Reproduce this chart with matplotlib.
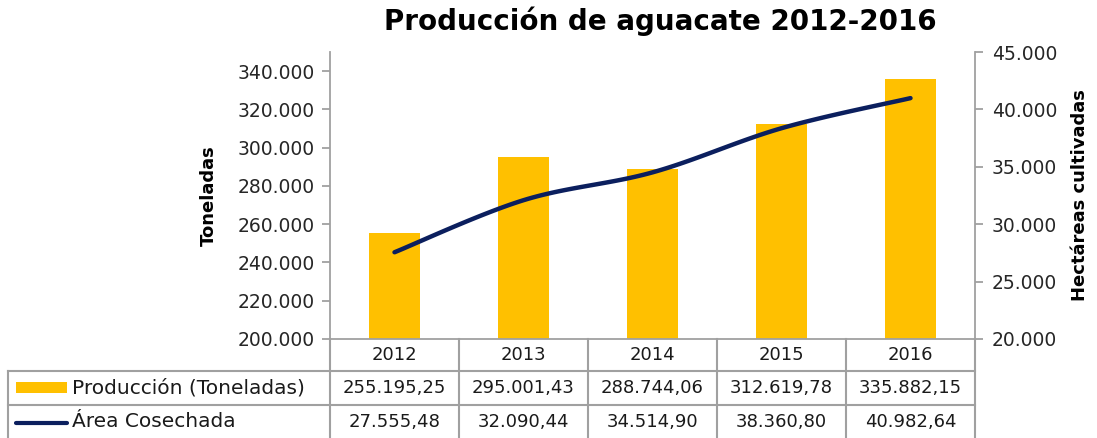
import numpy as np
import matplotlib
matplotlib.use("Agg")
import matplotlib.pyplot as plt

years = ["2012", "2013", "2014", "2015", "2016"]
produccion = [255195.25, 295001.43, 288744.06, 312619.78, 335882.15]
area = [27555.48, 32090.44, 34514.90, 38360.80, 40982.64]
left_ticks = [200000, 220000, 240000, 260000, 280000, 300000, 320000, 340000]
right_ticks = [20000, 25000, 30000, 35000, 40000, 45000]
title = "Producción de aguacate 2012-2016"
serie1 = "Producción (Toneladas)"
serie2 = "Área Cosechada"

YELLOW = "#FFC000"
NAVY = "#0B1F5E"
GRAY = "#A0A0A0"
FONT = "DejaVu Sans"
plt.rcParams['font.family'] = [FONT]
FS = 13.5

W, H = 1097, 438
fig = plt.figure(figsize=(W / 100, H / 100), dpi=100)

def fmt(v, dec=0):
    s = f"{v:,.{dec}f}"
    return s.replace(",", "X").replace(".", ",").replace("X", ".")

L, R, T, B = 330, 975, 52, 339
ax = fig.add_axes([L / W, (H - B) / H, (R - L) / W, (B - T) / H])
x = np.arange(len(years))
ax.bar(x, produccion, width=0.4, color=YELLOW, zorder=2)
ax.set_xlim(-0.5, len(years) - 0.5)
ax.set_ylim(200000, 350000)
ax.set_yticks(left_ticks)
ax.set_yticklabels([fmt(v) for v in left_ticks], fontsize=FS, color="#262626")
ax.set_xticks([])
for s in ["top", "right"]:
    ax.spines[s].set_visible(False)
for s in ["left", "bottom"]:
    ax.spines[s].set_color(GRAY)
    ax.spines[s].set_linewidth(1.3)
ax.tick_params(axis="y", length=6, width=1.3, color=GRAY, pad=5)
ax.set_ylabel("Toneladas", fontsize=13, fontweight="bold", labelpad=14)

ax2 = ax.twinx()
ax2.set_ylim(20000, 45000)
ax2.set_yticks(right_ticks)
ax2.set_yticklabels([fmt(v) for v in right_ticks], fontsize=FS, color="#262626")
for s in ["top", "left", "bottom"]:
    ax2.spines[s].set_visible(False)
ax2.spines["right"].set_color(GRAY)
ax2.spines["right"].set_linewidth(1.3)
ax2.tick_params(axis="y", length=6, width=1.3, color=GRAY, pad=6)
ax2.set_ylabel("Hectáreas cultivadas", fontsize=13, fontweight="bold", labelpad=10)

# smoothed line (Bezier smoothing similar to spreadsheet smoothing)
px = np.array(x, dtype=float)
py = np.array(area, dtype=float)
xs, ys = [], []
n = len(px)
for i in range(n - 1):
    p0 = (px[max(i - 1, 0)], py[max(i - 1, 0)])
    p1 = (px[i], py[i])
    p2 = (px[i + 1], py[i + 1])
    p3 = (px[min(i + 2, n - 1)], py[min(i + 2, n - 1)])
    c1 = (p1[0] + (p2[0] - p0[0]) / 6, p1[1] + (p2[1] - p0[1]) / 6)
    c2 = (p2[0] - (p3[0] - p1[0]) / 6, p2[1] - (p3[1] - p1[1]) / 6)
    t = np.linspace(0, 1, 30)
    bx = (1 - t) ** 3 * p1[0] + 3 * (1 - t) ** 2 * t * c1[0] + 3 * (1 - t) * t ** 2 * c2[0] + t ** 3 * p2[0]
    by = (1 - t) ** 3 * p1[1] + 3 * (1 - t) ** 2 * t * c1[1] + 3 * (1 - t) * t ** 2 * c2[1] + t ** 3 * p2[1]
    xs.extend(bx)
    ys.extend(by)
ax2.plot(xs, ys, color=NAVY, linewidth=3.2, solid_capstyle="round", zorder=3)

fig.suptitle(title, x=660 / W, y=1 - 7 / H, va="top", fontsize=20, fontweight="bold")

# data table
TL = 8
unit = (R - L) / len(years)
x0 = -0.5 - (L - TL) / unit
tab = fig.add_axes([TL / W, 0, (R - TL) / W, (H - B) / H])
tab.set_xlim(x0, len(years) - 0.5)
tab.set_ylim(H, B)
tab.axis("off")
lkw = dict(color=GRAY, linewidth=1.5, clip_on=False)
tab.plot([x0, len(years) - 0.5], [371, 371], **lkw)
tab.plot([x0, len(years) - 0.5], [405, 405], **lkw)
tab.plot([x0, x0], [371, H], **lkw)
for i in range(len(years) + 1):
    tab.plot([i - 0.5, i - 0.5], [B, H], **lkw)
tkw = dict(fontsize=13, ha="center", va="center", color="#1a1a1a")
for i, yv in enumerate(years):
    tab.text(i, 355, yv, **tkw)
    tab.text(i, 388, fmt(produccion[i], 2), **tkw)
    tab.text(i, 422, fmt(area[i], 2), **tkw)
# legend keys
kx0 = x0 + (16 - TL) / unit
kx1 = x0 + (67 - TL) / unit
tab.fill_between([kx0, kx1], 382.5, 393, color=YELLOW, linewidth=0)
tab.plot([kx0, kx1], [423, 423], color=NAVY, linewidth=3, solid_capstyle="round")
lx = x0 + (72 - TL) / unit
tab.text(lx, 388, serie1, fontsize=14.5, ha="left", va="center", color="#1a1a1a")
tab.text(lx, 422, serie2, fontsize=14.5, ha="left", va="center", color="#1a1a1a")

fig.savefig("out.png", dpi=100)
